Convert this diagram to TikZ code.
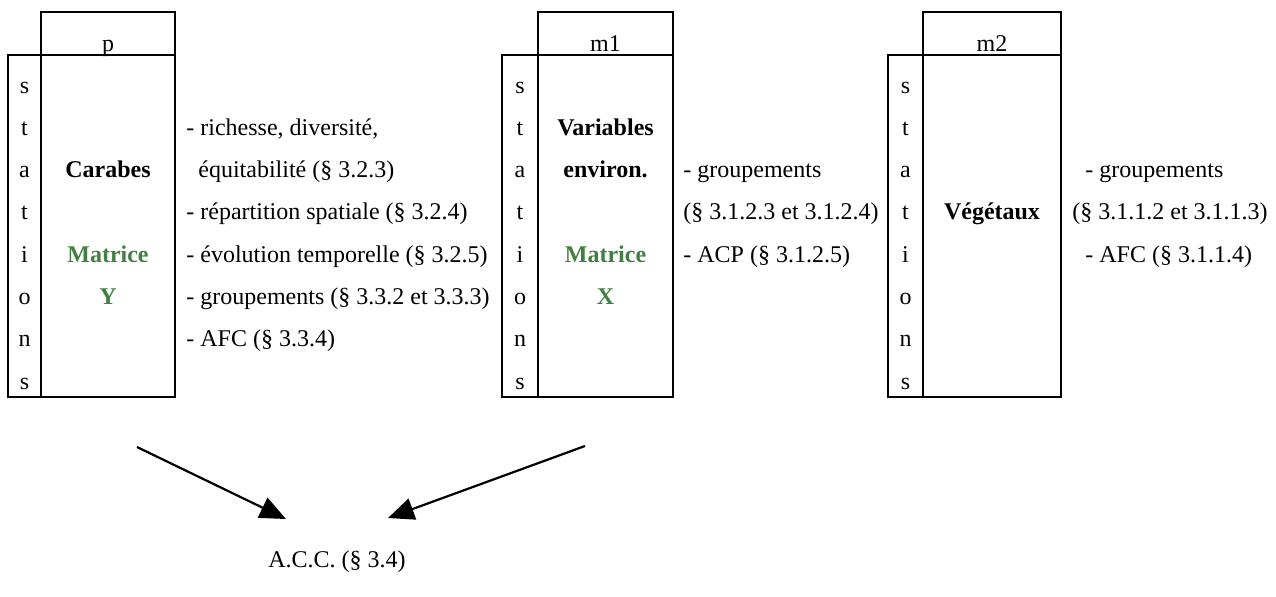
\documentclass[tikz,border=0pt]{standalone}
\usepackage{fontspec}
\setmainfont{Liberation Serif}
\usetikzlibrary{arrows.meta}
\definecolor{matgreen}{RGB}{66,128,66}
\tikzset{
  cell/.style={draw, line width=0.9pt, inner sep=0pt, outer sep=0pt, anchor=north west},
  txt/.style={anchor=base, inner sep=0pt, font=\fontsize{12}{14}\selectfont},
  ltxt/.style={txt, anchor=base west},
  btxt/.style={txt, font=\fontsize{12}{14}\selectfont\bfseries},
  gtxt/.style={btxt, text=matgreen},
  arr/.style={line width=1.1pt, -{Triangle[length=13pt,width=11pt]}}
}
\begin{document}
\begin{tikzpicture}[x=0.5pt,y=-0.5pt]
\useasboundingbox (0,0) rectangle (1276,596);
% table 1
\node[cell, minimum width=67pt, minimum height=21.5pt] (h1) at (41,12) {};
\node[cell, minimum width=16.5pt, minimum height=171pt] (s1) at (8,55) {};
\node[cell, minimum width=67pt, minimum height=171pt] (m1box) at (41,55) {};
% table 2
\node[cell, minimum width=67.5pt, minimum height=21.5pt] (h2) at (538,12) {};
\node[cell, minimum width=18pt, minimum height=171pt] (s2) at (502,55) {};
\node[cell, minimum width=67.5pt, minimum height=171pt] (m2box) at (538,55) {};
% table 3
\node[cell, minimum width=69pt, minimum height=21.5pt] (h3) at (923,12) {};
\node[cell, minimum width=17.5pt, minimum height=171pt] (s3) at (888,55) {};
\node[cell, minimum width=69pt, minimum height=171pt] (m3box) at (923,55) {};
% headers
\node[txt] (p) at (108,51) {p};
\node[txt] (ml) at (605.5,51) {m1};
\node[txt] (mm) at (992,51) {m2};
% stations letters
\foreach \l [count=\k from 0] in {s,t,a,t,i,o,n,s}{
  \node[txt] (sa\k) at (24.5,93+42.3*\k) {\l};
  \node[txt] (sb\k) at (520,93+42.3*\k) {\l};
  \node[txt] (sc\k) at (905.5,93+42.3*\k) {\l};
}
% table 1 content
\node[btxt] (carabes) at (108,177.6) {Carabes};
\node[gtxt] (matY) at (108,262.2) {Matrice};
\node[gtxt] (Y) at (108,304.5) {Y};
\node[ltxt] (r1) at (186,135.3) {- richesse, diversité,};
\node[ltxt] (r2) at (198,177.6) {équitabilité (§ 3.2.3)};
\node[ltxt] (r3) at (186,219.9) {- répartition spatiale (§ 3.2.4)};
\node[ltxt] (r4) at (186,262.2) {- évolution temporelle (§ 3.2.5)};
\node[ltxt] (r5) at (186,304.5) {- groupements (§ 3.3.2 et 3.3.3)};
\node[ltxt] (r6) at (186,346.8) {- AFC (§ 3.3.4)};
% table 2 content
\node[btxt] (var) at (605.5,135.3) {Variables};
\node[btxt] (env) at (605.5,177.6) {environ.};
\node[gtxt] (matX) at (605.5,262.2) {Matrice};
\node[gtxt] (X) at (605.5,304.5) {X};
\node[ltxt] (q1) at (683,177.6) {- groupements};
\node[ltxt] (q2) at (683,219.9) {(§ 3.1.2.3 et 3.1.2.4)};
\node[ltxt] (q3) at (683,262.2) {- ACP (§ 3.1.2.5)};
% table 3 content
\node[btxt] (veg) at (992,219.9) {Végétaux};
\node[ltxt] (u1) at (1085,177.6) {- groupements};
\node[ltxt] (u2) at (1072,219.9) {(§ 3.1.1.2 et 3.1.1.3)};
\node[ltxt] (u3) at (1085,262.2) {- AFC (§ 3.1.1.4)};
% ACC
\node[txt] (acc) at (337,567) {A.C.C. (§ 3.4)};
\coordinate (a1s) at (137,447);
\coordinate (a1e) at (286,519);
\coordinate (a2s) at (585,446);
\coordinate (a2e) at (388,518);
\draw[arr] (a1s) -- (a1e);
\draw[arr] (a2s) -- (a2e);
\end{tikzpicture}
\end{document}
